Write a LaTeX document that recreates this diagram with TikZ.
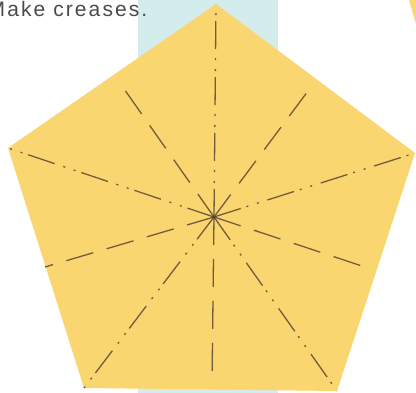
\documentclass[tikz,border=0pt]{standalone}
\usepackage{fontspec}
\setmainfont{Liberation Sans}
\definecolor{paper}{RGB}{249,214,112}
\definecolor{skyblue}{RGB}{212,236,235}
\definecolor{crease}{RGB}{115,92,58}
\definecolor{txt}{RGB}{75,75,75}
\begin{document}
\begin{tikzpicture}[x=1pt,y=-1pt,
  valley/.style={draw=crease,line width=1.3pt,dash pattern=on 28pt off 14pt},
  mountain/.style={draw=crease,line width=1.3pt,dash pattern=on 28pt off 6pt on 2pt off 9pt on 2pt off 9pt},
  label/.style={font=\fontsize{21}{24}\selectfont\addfontfeature{LetterSpace=10},text=txt,anchor=base west,inner sep=0pt}]
\useasboundingbox (0,0) rectangle (416,393);
\fill[white] (0,0) rectangle (416,393);
% blue strip
\fill[skyblue] (138,0) rectangle (278,393);
% yellow sliver at top right
\fill[paper] (409,0) -- (416,0) -- (416,24) -- cycle;
% paper corners
\coordinate (T) at (216,4);
\coordinate (R) at (415,153);
\coordinate (BR) at (337,391);
\coordinate (BL) at (84,388);
\coordinate (L) at (8,148);
\coordinate (C) at (214,217);
% ends of the valley creases
\coordinate (mUL) at (122,86);
\coordinate (mUR) at (311,87);
\coordinate (mLR) at (368,268);
\coordinate (mB) at (212,383);
\coordinate (mLL) at (45,267);
\fill[paper] (T) -- (R) -- (BR) -- (BL) -- (L) -- cycle;
% creases
\foreach \v in {T,R,BR,BL,L} \draw[mountain] (C) -- (\v);
\foreach \m in {mUL,mUR,mLR,mB,mLL} \draw[valley] (C) -- (\m);
\fill[crease!70!black] (C) circle (1.8pt);
\node[label] (title) at (-12.5,16.5) {Make creases.};
\end{tikzpicture}
\end{document}
